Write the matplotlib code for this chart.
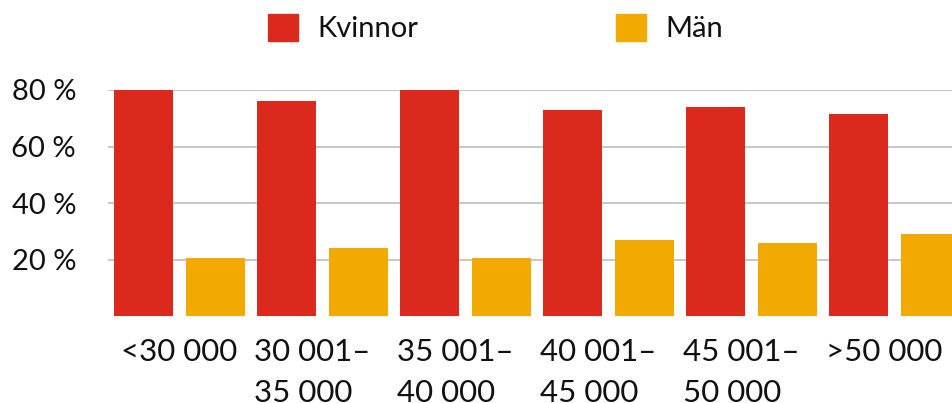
import numpy as np
import matplotlib
matplotlib.use("Agg")
import matplotlib.pyplot as plt
import matplotlib.transforms as mtransforms
from matplotlib.patches import Patch

categories = ["<30 000", "30 001–\n35 000", "35 001–\n40 000",
              "40 001–\n45 000", "45 001–\n50 000", ">50 000"]
kvinnor = [80, 76, 80, 73, 74, 71.5]
man = [20.5, 24, 20.5, 27, 26, 29]
yticks = [20, 40, 60, 80]

red = "#DB291D"
yellow = "#F2A900"

plt.rcParams["font.family"] = ["Lato", "DejaVu Sans"]

fig = plt.figure(figsize=(9.53, 4.03), dpi=100)
ax = fig.add_axes([108 / 953, 1 - 316 / 403, 858 / 953, 226 / 403])

x = np.arange(len(categories))
ax.bar(x + 0.25, kvinnor, width=0.41, color=red, zorder=3)
ax.bar(x + 0.75, man, width=0.41, color=yellow, zorder=3)

ax.set_xlim(0, len(categories))
ax.set_ylim(0, 80)
ax.set_yticks(yticks)
ax.set_yticklabels([f"{v} %" for v in yticks], fontsize=21, color="#111111")
ax.set_xticks(x + 0.5)
ax.set_xticklabels(categories, fontsize=22.5, color="#111111",
                   multialignment="left", linespacing=1.55)
ax.tick_params(axis="y", length=0, pad=23)
ax.tick_params(axis="x", length=0, pad=16)
ax.grid(axis="y", color="#c8c8c8", linewidth=1.5, zorder=0)
for s in ax.spines.values():
    s.set_visible(False)

# labels after the first sit a little left of the group centre
shift = mtransforms.ScaledTranslation(-10 / 100, 0, fig.dpi_scale_trans)
for lbl in ax.get_xticklabels()[1:]:
    lbl.set_transform(lbl.get_transform() + shift)

handles = [Patch(color=red, label="Kvinnor"), Patch(color=yellow, label="Män")]
fig.legend(handles=handles, loc="center", bbox_to_anchor=(0.52, 0.93),
           ncol=2, frameon=False, fontsize=21, handlelength=1.03,
           handleheight=1.03, handletextpad=0.65, columnspacing=6.8,
           labelcolor="#111111")

fig.savefig("out.png", dpi=100)
